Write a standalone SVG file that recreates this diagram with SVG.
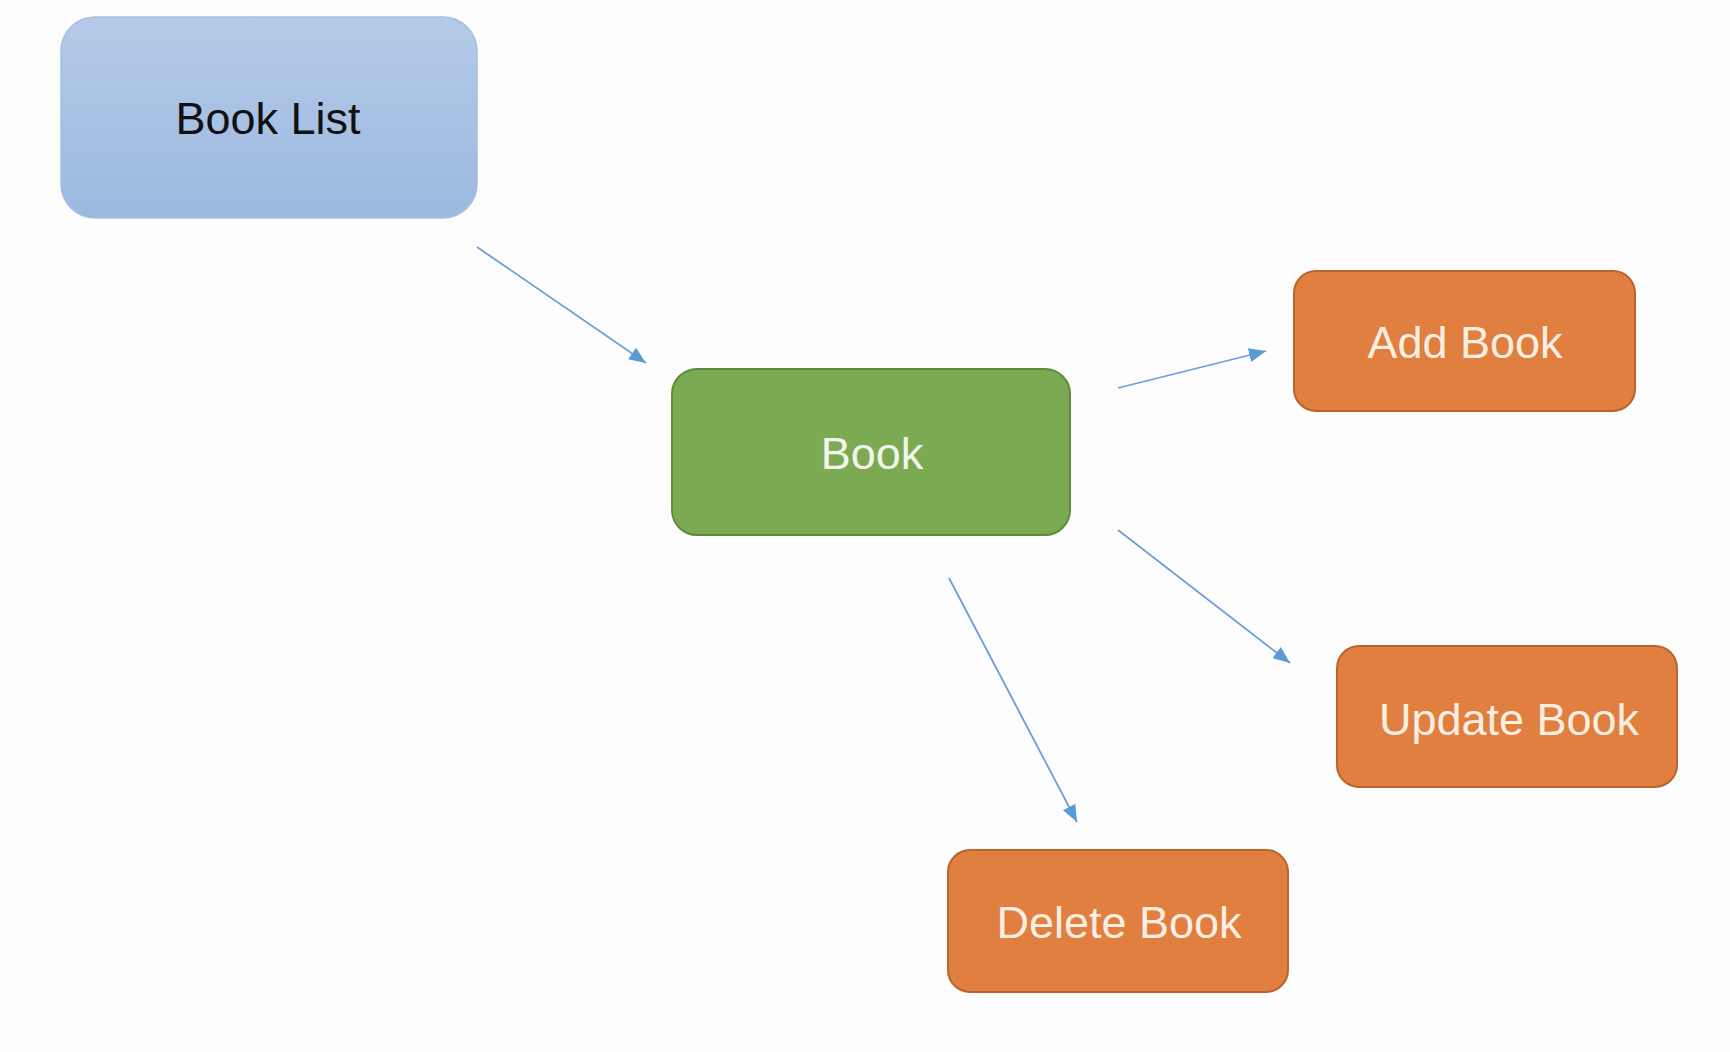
<svg xmlns="http://www.w3.org/2000/svg" width="1730" height="1052" viewBox="0 0 1730 1052">
<defs>
<linearGradient id="blueGrad" x1="0" y1="0" x2="0" y2="1">
<stop offset="0" stop-color="#b5cae8"/>
<stop offset="1" stop-color="#9bb9e0"/>
</linearGradient>
<marker id="arrow" markerUnits="userSpaceOnUse" markerWidth="17" markerHeight="14" refX="17" refY="7" orient="auto">
<path d="M0,0 L17,7 L0,14 Z" fill="#5b9bd5"/>
</marker>
</defs>
<style>
.lbl{font-family:"Liberation Sans",Arial,sans-serif;font-size:45px;text-anchor:middle}
.orange{fill:#e07f40;stroke:#b9642c;stroke-width:2}
.otext{fill:#fcefe2}
.conn{fill:none;stroke:#6aa0d8;stroke-width:1.8;marker-end:url(#arrow)}
</style>
<rect width="1730" height="1052" fill="#fdfdfd"/>
<g id="connectors">
<path class="conn" d="M477,247 L646,363"/>
<path class="conn" d="M1118,388 L1266,351"/>
<path class="conn" d="M1118,530 L1290,663"/>
<path class="conn" d="M949,578 L1077,822"/>
</g>
<g id="book-list">
<rect x="61" y="17" width="416" height="201" rx="34" fill="url(#blueGrad)" stroke="#a4bde2" stroke-width="1.5"/>
<text class="lbl" x="268" y="134" fill="#111">Book List</text>
</g>
<g id="book">
<rect x="672" y="369" width="398" height="166" rx="25" fill="#7caa53" stroke="#5f8b3e" stroke-width="2"/>
<text class="lbl" x="872" y="469" fill="#f1f6ec">Book</text>
</g>
<g id="add-book">
<rect class="orange" x="1294" y="271" width="341" height="140" rx="22"/>
<text class="lbl otext" x="1465" y="358">Add Book</text>
</g>
<g id="update-book">
<rect class="orange" x="1337" y="646" width="340" height="141" rx="22"/>
<text class="lbl otext" x="1509" y="735">Update Book</text>
</g>
<g id="delete-book">
<rect class="orange" x="948" y="850" width="340" height="142" rx="22"/>
<text class="lbl otext" x="1119" y="938">Delete Book</text>
</g>
</svg>
